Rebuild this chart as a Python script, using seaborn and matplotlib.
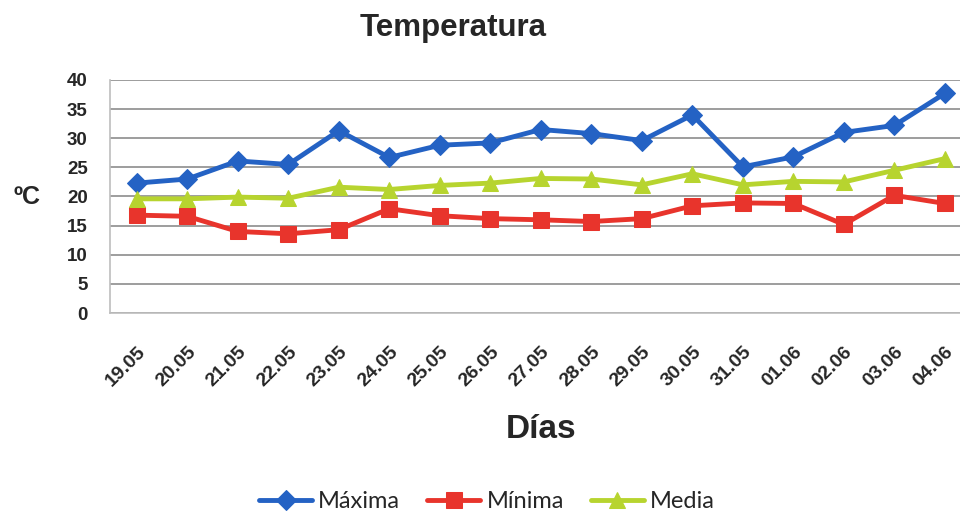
import pandas as pd
import matplotlib.pyplot as plt
import seaborn as sns

# --- datos ---
DIAS = ['19.05', '20.05', '21.05', '22.05', '23.05', '24.05', '25.05', '26.05', '27.05',
        '28.05', '29.05', '30.05', '31.05', '01.06', '02.06', '03.06', '04.06']
MAXIMA = [22.3, 23.0, 26.1, 25.5, 31.3, 26.7, 28.8, 29.2, 31.5, 30.8, 29.6, 34.0, 25.1, 26.8, 31.0, 32.2, 37.7]
MINIMA = [16.8, 16.6, 14.0, 13.6, 14.3, 17.9, 16.7, 16.2, 16.0, 15.7, 16.2, 18.4, 18.9, 18.8, 15.2, 20.2, 18.8]
MEDIA = [19.6, 19.6, 19.9, 19.7, 21.6, 21.2, 21.9, 22.3, 23.1, 23.0, 22.0, 23.9, 22.0, 22.6, 22.5, 24.5, 26.5]

SERIES = [('Máxima', MAXIMA, '#2462C4', 'D', 10),
          ('Mínima', MINIMA, '#E8342C', 's', 11),
          ('Media', MEDIA, '#B7D42F', '^', 11)]

sns.set_style('white')
plt.rcParams['font.family'] = ['Liberation Sans', 'DejaVu Sans']

fig = plt.figure(figsize=(9.6, 5.17), dpi=100)
ax = fig.add_axes([110 / 960, 1 - 313 / 517, 850 / 960, 233 / 517])

x = list(range(len(DIAS)))
for nombre, valores, color, marcador, tam in SERIES:
    df = pd.DataFrame({'x': x, 'y': valores})
    sns.lineplot(data=df, x='x', y='y', ax=ax, color=color, linewidth=3.5,
                 marker=marcador, markersize=tam, markeredgecolor=color,
                 label=nombre, clip_on=False, zorder=3)

ax.set_xlim(-0.53, 16.3)
ax.set_ylim(0, 40)
ax.set_yticks(range(0, 41, 5))
ax.set_xticks(x)
ax.set_xticklabels(DIAS, rotation=45, ha='right', rotation_mode='anchor',
                   fontsize=14, fontweight='bold')
for lab in ax.get_yticklabels():
    lab.set_fontsize(13.5)
    lab.set_fontweight('bold')
ax.tick_params(axis='both', length=0)
ax.tick_params(axis='y', pad=16)
ax.tick_params(axis='x', pad=22)

ax.grid(axis='y', color='#8c8c8c', linewidth=1.2)
for lado in ['top', 'right']:
    ax.spines[lado].set_visible(False)
for lado in ['left', 'bottom']:
    ax.spines[lado].set_color('#bdbdbd')
    ax.spines[lado].set_linewidth(1.2)

ax.set_xlabel('')
ax.set_ylabel('')
fig.text(27 / 960, 1 - 197 / 517, 'ºC', fontsize=18, fontweight='bold',
         ha='center', va='center')
fig.text(541 / 960, 1 - 430 / 517, 'Días', fontsize=24, fontweight='bold',
         ha='center', va='center')
fig.text(453 / 960, 1 - 28 / 517, 'Temperatura', fontsize=22.5, fontweight='bold',
         ha='center', va='center')

ax.legend_.remove()
h, l = ax.get_legend_handles_labels()
fig.legend(h, l, loc='center', bbox_to_anchor=(487 / 960, 1 - 502 / 517), ncol=3,
           frameon=False, prop={'family': ['Lato', 'DejaVu Sans'], 'size': 17},
           handlelength=2.25, handletextpad=0.25, columnspacing=1.15)

fig.savefig('out.png', dpi=100)
